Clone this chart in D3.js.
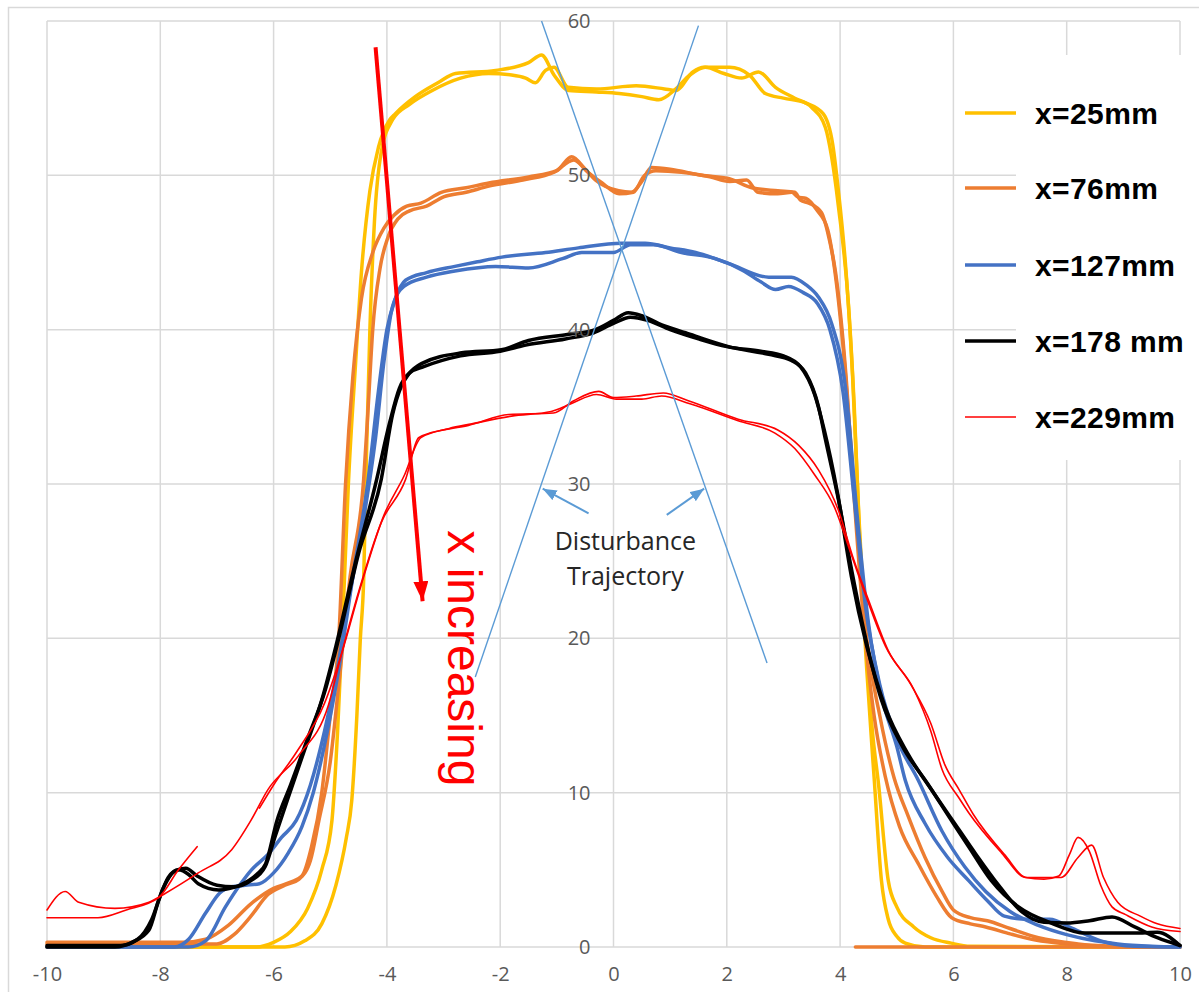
<!DOCTYPE html>
<html>
<head>
<meta charset="utf-8">
<script src="https://cdn.jsdelivr.net/npm/d3@7"></script>
<style>
  body { margin: 0; background: #fff; }
  svg { display: block; }
</style>
</head>
<body>
<svg id="chart" width="1199" height="992"></svg>
<script>
// ---- axis ticks ----
const xTicks = [-10, -8, -6, -4, -2, 0, 2, 4, 6, 8, 10];
const yTicks = [0, 10, 20, 30, 40, 50, 60];

// ---- profiles: [position, value] pairs, two runs per station ----
const y25a = [[-10,0],[-6.3,0],[-6.0,0.3],[-5.7,1.0],[-5.4,2.5],[-5.15,5],[-4.97,8.2],[-4.87,14],[-4.77,22],[-4.68,30],[-4.55,38],[-4.45,43.7],[-4.3,49],[-4.15,51.8],[-3.95,53.6],[-3.85,54.0],[-3.5,55.1],[-3.1,56.0],[-2.79,56.6],[-2.08,56.8],[-1.5,57.3],[-1.27,57.8],[-1.05,56.5],[-0.79,55.5],[-0.3,55.4],[0.1,55.3],[0.5,55.1],[0.8,54.9],[1.1,55.6],[1.35,56.5],[1.62,57.0],[1.95,56.6],[2.26,56.3],[2.56,56.7],[2.86,55.7],[3.2,55.0],[3.5,54.4],[3.74,53.1],[3.85,51.2],[3.97,48.0],[4.15,41.5],[4.25,35],[4.35,26],[4.47,18],[4.6,11],[4.73,4.3],[4.85,1.8],[5.0,0.7],[5.15,0.25],[5.5,0],[10,0]];
const y25b = [[-10,0],[-5.8,0],[-5.45,0.4],[-5.15,1.5],[-4.9,4],[-4.72,7],[-4.62,9.5],[-4.53,15],[-4.47,19.9],[-4.41,23.8],[-4.36,32],[-4.3,40],[-4.22,47],[-4.1,51.5],[-3.9,53.6],[-3.6,54.6],[-3.2,55.5],[-2.7,56.3],[-2.2,56.6],[-1.8,56.5],[-1.55,56.3],[-1.38,56.0],[-1.2,56.8],[-1.05,57.0],[-0.8,55.7],[-0.3,55.6],[0.4,55.8],[0.9,55.6],[1.1,55.5],[1.4,56.7],[1.6,57.0],[2.05,57.0],[2.4,56.5],[2.68,55.3],[3.0,55.0],[3.39,54.7],[3.7,54.0],[3.87,52],[3.97,49],[4.1,44],[4.22,37],[4.33,28],[4.45,20],[4.57,14],[4.68,10.5],[4.85,4.3],[5.0,2.6],[5.3,1.3],[5.6,0.6],[5.96,0.25],[6.3,0.05],[10,0]];

const o76a = [[-10,0.3],[-7.6,0.3],[-7.2,0.5],[-6.8,1.4],[-6.4,2.8],[-6.0,3.8],[-5.7,4.2],[-5.5,4.6],[-5.33,6.5],[-5.15,10],[-5.0,15],[-4.85,20],[-4.73,30],[-4.6,37],[-4.45,42],[-4.25,45],[-4.05,46.6],[-3.88,47.4],[-3.65,48.0],[-3.4,48.2],[-3.04,48.9],[-2.6,49.2],[-2.2,49.5],[-1.5,49.9],[-1.0,50.3],[-0.74,51.2],[-0.5,50.4],[-0.32,49.7],[0.09,49.0],[0.32,48.9],[0.5,49.6],[0.67,50.5],[1.0,50.4],[1.55,50.0],[2.03,49.8],[2.44,49.2],[2.9,49.0],[3.2,48.9],[3.3,48.4],[3.45,48.2],[3.67,47.6],[3.8,46],[3.92,43.7],[4.1,37.2],[4.25,29],[4.43,20.5],[4.6,15],[4.8,11],[5.05,7.8],[5.38,5.4],[5.7,3.3],[5.97,1.9],[6.3,1.5],[6.57,1.3],[7.0,0.85],[7.45,0.45],[8.0,0.2],[8.6,0.06],[9.2,0],[10,0]];
const o76b = [[-10,0.2],[-7.0,0.2],[-6.7,0.8],[-6.4,2.0],[-6.1,3.4],[-5.8,4.0],[-5.55,4.4],[-5.35,5.6],[-5.2,8.2],[-5.0,12],[-4.85,17],[-4.65,24],[-4.41,30.3],[-4.33,35],[-4.25,40],[-4.12,44],[-3.98,46],[-3.8,47.2],[-3.6,47.7],[-3.3,48.0],[-3.0,48.6],[-2.6,48.9],[-2.2,49.3],[-1.6,49.7],[-1.05,50.2],[-0.7,51.0],[-0.45,50.2],[-0.2,49.5],[0.1,48.8],[0.35,48.9],[0.55,50.0],[0.75,50.3],[1.2,50.2],[1.7,49.9],[2.05,49.6],[2.35,49.7],[2.55,48.9],[2.9,48.8],[3.15,48.9],[3.25,48.6],[3.4,48.5],[3.6,47.7],[3.78,46.5],[3.9,44],[4.05,39],[4.2,32],[4.35,25],[4.47,20],[4.7,15],[4.95,11],[5.2,8.5],[5.5,5.8],[5.8,3.6],[6.0,2.4],[6.3,1.9],[6.6,1.7],[7.0,1.2],[7.5,0.6],[8.2,0.2],[8.8,0.05],[9.4,0],[10,0]];
const o76c = [[4.27,0],[10,0]];

const b127a = [[-10,0],[-7.75,0],[-7.5,0.5],[-7.2,2.2],[-6.95,3.5],[-6.74,3.9],[-6.5,4.0],[-6.25,4.1],[-6.0,4.8],[-5.74,6.1],[-5.5,7.8],[-5.3,10],[-5.05,14],[-4.85,18],[-4.6,24],[-4.33,30.3],[-4.15,36],[-4.0,40],[-3.85,42],[-3.67,43.2],[-3.3,43.7],[-2.8,44.1],[-2.4,44.4],[-1.97,44.7],[-1.2,45.0],[-0.62,45.3],[0.14,45.6],[0.56,45.6],[1.0,45.3],[1.45,45.0],[2.03,44.3],[2.74,43.4],[3.14,43.4],[3.4,42.9],[3.62,42.1],[3.85,40.4],[4.1,36.1],[4.3,28],[4.5,21],[4.75,16],[5.0,13],[5.15,10.8],[5.5,8],[5.9,5.8],[6.27,4.3],[6.6,3.0],[6.9,2.0],[7.3,1.8],[7.7,1.8],[8.1,1.2],[8.6,0.4],[9.2,0.05],[10,0]];
const b127b = [[-10,0],[-7.5,0],[-7.2,0.4],[-6.85,2.6],[-6.6,4.0],[-6.39,5.0],[-6.1,6.0],[-5.86,7.1],[-5.6,8.2],[-5.35,10.5],[-5.1,14],[-4.9,17.5],[-4.65,23],[-4.4,28],[-4.2,33],[-4.05,38],[-3.9,41.5],[-3.7,42.8],[-3.3,43.4],[-2.8,43.8],[-2.08,44.1],[-1.5,44.0],[-0.9,44.6],[-0.56,45.0],[0.0,45.0],[0.3,45.5],[0.7,45.5],[1.2,45.0],[1.8,44.6],[2.3,43.8],[2.6,43.1],[2.86,42.6],[3.09,42.8],[3.35,42.4],[3.6,41.7],[3.82,40],[4.05,36],[4.25,29],[4.45,22],[4.7,17],[5.0,13.5],[5.38,10.8],[5.8,7.5],[6.2,5.2],[6.57,3.6],[7.0,2.3],[7.5,1.4],[8.0,0.8],[8.5,0.4],[8.9,0.2],[9.5,0.05],[10,0]];

const k178a = [[-10,0],[-8.8,0],[-8.5,0.3],[-8.2,1.1],[-8.03,3.0],[-7.86,4.5],[-7.68,5.0],[-7.5,4.7],[-7.33,4.1],[-6.97,3.7],[-6.6,4.0],[-6.3,4.7],[-6.14,5.4],[-5.94,8.2],[-5.7,10.5],[-5.4,13.5],[-5.1,16.5],[-4.85,20],[-4.5,25.5],[-4.1,30.3],[-3.9,34.5],[-3.75,36.3],[-3.62,37.1],[-3.39,37.8],[-2.68,38.5],[-1.98,38.7],[-1.5,39.3],[-0.79,39.7],[-0.32,40.0],[0.0,40.6],[0.26,41.1],[0.5,40.9],[0.8,40.4],[1.27,39.8],[2.03,38.9],[2.74,38.4],[3.14,38.0],[3.39,37.2],[3.62,35.0],[3.74,32.9],[3.97,29],[4.2,24.5],[4.45,20],[4.73,16],[5.1,13],[5.56,10.5],[6.0,8],[6.27,6.5],[6.67,4.3],[7.15,2.6],[7.73,1.55],[8.33,0.9],[9.2,0.9],[9.6,0.95],[10,0.1]];
const k178b = [[-10,0.1],[-8.7,0.1],[-8.4,0.5],[-8.15,1.8],[-7.95,3.8],[-7.75,4.9],[-7.55,5.1],[-7.35,4.6],[-7.0,4.0],[-6.7,3.9],[-6.4,4.3],[-6.15,5.2],[-5.97,7.2],[-5.75,9.6],[-5.45,12.8],[-5.15,16],[-4.9,19.5],[-4.55,25],[-4.2,30],[-3.95,34],[-3.78,36.2],[-3.6,37.2],[-3.35,37.6],[-2.7,38.3],[-2.0,38.6],[-1.55,39.0],[-0.85,39.4],[-0.35,39.8],[0.0,40.4],[0.3,40.8],[0.6,40.6],[1.0,40.0],[1.5,39.4],[2.0,38.9],[2.6,38.6],[3.0,38.3],[3.3,37.6],[3.55,35.8],[3.72,33.5],[3.95,29.5],[4.2,24],[4.47,19.5],[4.8,15.5],[5.2,12.5],[5.65,10.0],[6.1,7.6],[6.4,6.0],[6.8,4.0],[7.2,2.3],[7.6,1.6],[8.0,1.55],[8.4,1.7],[8.8,1.95],[9.2,1.3],[9.6,0.6],[10,0.1]];

const r229a = [[-10,2.4],[-9.68,3.6],[-9.44,2.9],[-8.8,2.5],[-8.2,2.9],[-7.9,3.5],[-7.33,4.8],[-6.74,6.3],[-6.4,8.2],[-6.1,10.2],[-5.56,12.4],[-5.03,15.7],[-4.8,19],[-4.5,23],[-4.1,27.5],[-3.67,30.3],[-3.44,33],[-3.0,33.5],[-2.56,33.8],[-1.85,34.5],[-1.06,34.6],[-0.7,35.4],[-0.26,36.0],[0,35.6],[0.4,35.7],[0.88,35.9],[1.32,35.4],[2.2,34.2],[2.9,33.5],[3.27,32.5],[3.62,30.9],[3.97,28.3],[4.24,25.1],[4.5,22.5],[4.85,19.2],[5.3,16.7],[5.6,14],[5.8,11.5],[6.09,9.7],[6.27,8.7],[6.85,6.1],[7.27,4.5],[7.6,4.4],[7.86,4.6],[8.05,6],[8.2,7.1],[8.4,6.2],[8.6,4],[8.8,2.6],[9.04,2.1],[9.5,1.3],[10,1.0]];
const r229b = [[-10,1.9],[-9.1,1.9],[-8.6,2.4],[-8.03,3.2],[-7.68,5.0],[-7.35,6.5],null,[-6.25,9.0],[-6.0,10.5],[-5.6,12.6],[-5.1,15.8],[-4.8,19],[-4.45,23.5],[-4.05,28],[-3.7,30.5],[-3.4,33],[-2.9,33.6],[-2.5,33.9],[-1.8,34.4],[-1.1,34.7],[-0.75,35.2],[-0.3,35.8],[0.05,35.5],[0.5,35.5],[0.85,35.7],[1.35,35.2],[2.2,34.1],[2.85,33.3],[3.2,32.3],[3.55,30.6],[3.9,28.5],[4.2,25.4],[4.45,22.8],[4.8,19.5],[5.25,17],[5.6,14.5],[5.85,11.8],[6.1,10.2],[6.35,8.6],[6.9,6.0],[7.3,4.5],[7.9,4.5],[8.2,5.8],[8.44,6.6],[8.65,4.5],[8.9,2.9],[9.3,2.0],[9.6,1.5],[10,1.2]];

const seriesNames = ["x=25mm", "x=76mm", "x=127mm", "x=178 mm", "x=229mm"];
const seriesColors = ["#FFC000", "#ED7D31", "#4472C4", "#000000", "#FF0000"];
const seriesWidths = [3.5, 3.5, 3.5, 3.5, 1.6];
const seriesRuns = [[y25a, y25b], [o76a, o76b, o76c], [b127a, b127b], [k178a, k178b], [r229a, r229b]];

// annotation geometry in data units
const trajectoryA = [[-1.27, 60], [2.71, 18.4]];
const trajectoryB = [[1.5, 59.7], [-2.44, 17.5]];
const pointerA = [[-0.44, 28.1], [-1.25, 29.7]];
const pointerB = [[0.94, 28.0], [1.6, 29.7]];
const trendArrow = [[-4.2, 58.3], [-3.37, 22.4]];

// ---- layout ----
const svg = d3.select("#chart");
const W = 1199, H = 992;
const plot = { left: 47, right: 1180, top: 21, bottom: 947 };

const x = d3.scaleLinear().domain([-10, 10]).range([plot.left, plot.right]);
const y = d3.scaleLinear().domain([0, 60]).range([plot.bottom, plot.top]);

svg.append("rect").attr("x", 0).attr("y", 0).attr("width", W).attr("height", H).attr("fill", "#fff");
// chart frame
svg.append("rect").attr("x", 8.5).attr("y", 7.5).attr("width", W).attr("height", H)
  .attr("fill", "none").attr("stroke", "#D9D9D9").attr("stroke-width", 1.5);

const defs = svg.append("defs");
function marker(id, color, w, h) {
  defs.append("marker").attr("id", id)
    .attr("viewBox", `0 0 ${w} ${h}`).attr("refX", w).attr("refY", h / 2)
    .attr("markerWidth", w).attr("markerHeight", h).attr("markerUnits", "userSpaceOnUse")
    .attr("orient", "auto")
    .append("path").attr("d", `M0,0L${w},${h / 2}L0,${h}Z`).attr("fill", color);
}
marker("headBlue", "#5B9BD5", 14, 11);
marker("headRed", "#FF0000", 20, 15);

// gridlines
const grid = svg.append("g");
grid.selectAll("line.v").data(xTicks).join("line")
  .attr("x1", d => x(d)).attr("x2", d => x(d))
  .attr("y1", plot.top).attr("y2", plot.bottom)
  .attr("stroke", "#D9D9D9").attr("stroke-width", 1.5);
grid.selectAll("line.h").data(yTicks).join("line")
  .attr("x1", plot.left).attr("x2", plot.right)
  .attr("y1", d => y(d)).attr("y2", d => y(d))
  .attr("stroke", "#D9D9D9").attr("stroke-width", 1.5);

// x axis labels along the bottom
const xAxis = d3.axisBottom(x).tickValues(xTicks).tickSize(0).tickPadding(28)
  .tickFormat(d3.format("d"));
const gx = svg.append("g").attr("transform", `translate(0,${plot.bottom})`).call(xAxis);
gx.select(".domain").remove();
gx.selectAll("text").attr("font-family", "Open Sans, Liberation Sans, sans-serif")
  .attr("font-size", 20).attr("fill", "#595959").attr("dy", "0.32em").text(d => d < 0 ? "-" + Math.abs(d) : d);

// profile lines
const line = d3.line()
  .defined(d => d != null)
  .x(d => x(d[0])).y(d => y(d[1]))
  .curve(d3.curveMonotoneX);

const lines = svg.append("g").attr("fill", "none").attr("stroke-linejoin", "round").attr("stroke-linecap", "round");
seriesRuns.forEach((runs, i) => {
  lines.append("g").selectAll("path").data(runs).join("path")
    .attr("d", line)
    .attr("stroke", seriesColors[i])
    .attr("stroke-width", seriesWidths[i]);
});

// y axis labels sitting beside x = 0
const yAxis = d3.axisLeft(y).tickValues(yTicks).tickSize(0).tickPadding(23);
const gy = svg.append("g").attr("transform", `translate(${x(0)},0)`).call(yAxis);
gy.select(".domain").remove();
gy.selectAll("text").attr("font-family", "Open Sans, Liberation Sans, sans-serif")
  .attr("font-size", 20).attr("fill", "#595959");

// disturbance trajectories
const ann = svg.append("g");
[trajectoryA, trajectoryB].forEach(seg => {
  ann.append("line")
    .attr("x1", x(seg[0][0])).attr("y1", y(seg[0][1]))
    .attr("x2", x(seg[1][0])).attr("y2", y(seg[1][1]))
    .attr("stroke", "#5B9BD5").attr("stroke-width", 1.4);
});
[pointerA, pointerB].forEach(seg => {
  ann.append("line")
    .attr("x1", x(seg[0][0])).attr("y1", y(seg[0][1]))
    .attr("x2", x(seg[1][0])).attr("y2", y(seg[1][1]))
    .attr("stroke", "#5B9BD5").attr("stroke-width", 2)
    .attr("marker-end", "url(#headBlue)");
});
ann.append("text").attr("x", x(0.21)).attr("y", y(25.75))
  .attr("text-anchor", "middle").attr("font-family", "Open Sans, Liberation Sans, sans-serif")
  .attr("font-size", 25).attr("fill", "#262626").text("Disturbance");
ann.append("text").attr("x", x(0.21)).attr("y", y(23.45))
  .attr("text-anchor", "middle").attr("font-family", "Open Sans, Liberation Sans, sans-serif")
  .attr("font-size", 25).attr("fill", "#262626").text("Trajectory");

// trend arrow and caption
ann.append("line")
  .attr("x1", x(trendArrow[0][0])).attr("y1", y(trendArrow[0][1]))
  .attr("x2", x(trendArrow[1][0])).attr("y2", y(trendArrow[1][1]))
  .attr("stroke", "#FF0000").attr("stroke-width", 4)
  .attr("marker-end", "url(#headRed)");
ann.append("text")
  .attr("transform", `translate(${x(-2.93)},${y(27)}) rotate(90)`)
  .attr("font-family", "Liberation Sans, Arial, sans-serif")
  .attr("font-size", 48).attr("fill", "#FF0000").text("x increasing");

// legend
const legend = svg.append("g");
legend.append("rect").attr("x", 1016).attr("y", 55).attr("width", W - 1016).attr("height", 405).attr("fill", "#fff");
const legendY = [113, 188, 265, 341, 417];
seriesNames.forEach((name, i) => {
  const g = legend.append("g").attr("transform", `translate(965,${legendY[i]})`);
  g.append("line").attr("x1", 0).attr("x2", 51).attr("y1", 0).attr("y2", 0)
    .attr("stroke", seriesColors[i]).attr("stroke-width", seriesWidths[i]);
  g.append("text").attr("x", 70).attr("y", 0).attr("dy", "0.36em")
    .attr("font-family", "Liberation Sans, Arial, sans-serif").attr("font-weight", "bold")
    .attr("font-size", 30).attr("letter-spacing", 0.4).attr("fill", "#000").text(name);
});
</script>
</body>
</html>
